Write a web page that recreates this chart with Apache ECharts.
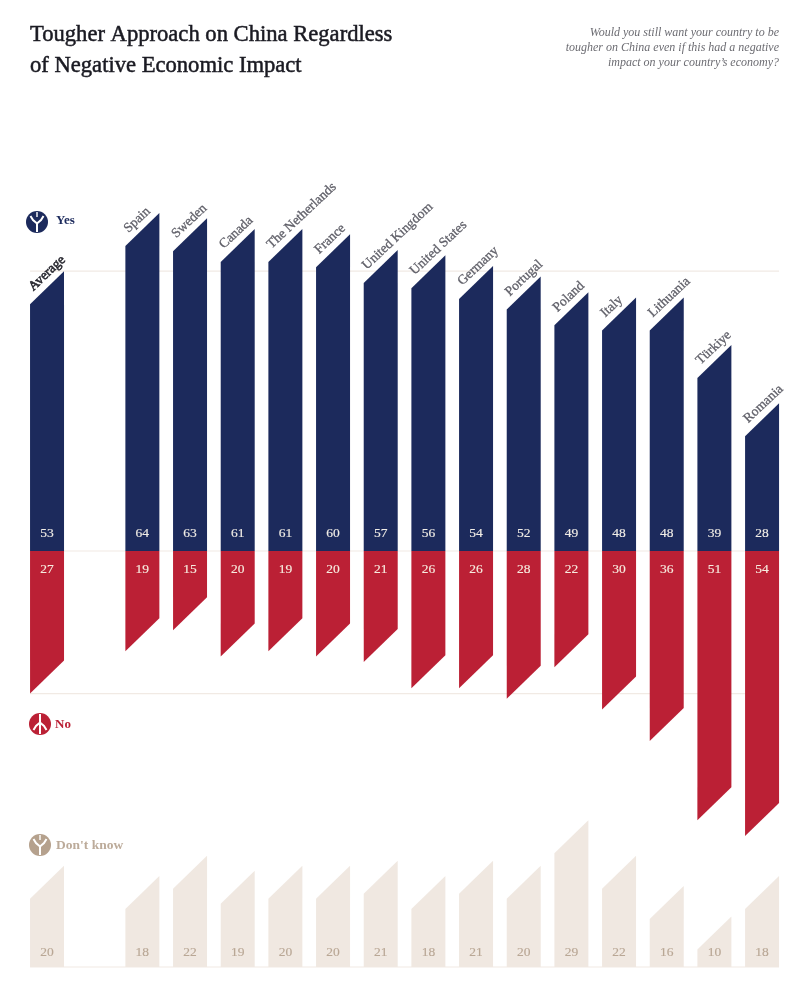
<!DOCTYPE html>
<html>
<head>
<meta charset="utf-8">
<style>html,body{margin:0;padding:0;background:#fff}#c{width:800px;height:992px}</style>
<script src="https://cdn.jsdelivr.net/npm/echarts@6/dist/echarts.min.js"></script>
</head>
<body>
<div id="c"></div>
<script>
const categories = ['Average','','Spain','Sweden','Canada','The Netherlands','France','United Kingdom','United States','Germany','Portugal','Poland','Italy','Lithuania','Türkiye','Romania'];
const yesValues = [53,null,64,63,61,61,60,57,56,54,52,49,48,48,39,28];
const noValues = [27,null,19,15,20,19,20,21,26,26,28,22,30,36,51,54];
const dkValues = [20,null,18,22,19,20,20,21,18,21,20,29,22,16,10,18];
const referenceLines = [53,0,-27];
const baseLine = [0];

const NAVY='#1c2a5c', RED='#bb2035', SAND='#f0e8e1', SANDTEXT='#b9a795', LINE='#f1eae4';
const SERIF='"Liberation Serif", serif';
const RATIO=0.713, RISE=33;

function barItem(color,dir,textColor,labelOffset,withName){
  return function(params,api){
    const v=api.value(1);
    if(v==null||isNaN(v))return;
    const i=api.value(0);
    const c0=api.coord([i,0]), c1=api.coord([i,dir*v]);
    const w=api.size([1,0])[0]*RATIO;
    const l=c0[0]-w/2, r=c0[0]+w/2;
    const pts = dir>0
      ? [[l,c0[1]],[r,c0[1]],[r,c1[1]],[l,c1[1]+RISE]]
      : [[l,c0[1]],[r,c0[1]],[r,c1[1]-RISE],[l,c1[1]]];
    const children=[{type:'polygon',shape:{points:pts},style:{fill:color}},
      {type:'text',x:c0[0],y:c0[1]-dir*labelOffset,style:{text:String(v),fill:textColor,stroke:textColor,lineWidth:0.15,font:'13.5px '+SERIF,textAlign:'center',textVerticalAlign:'middle'}}];
    if(withName){
      const isAvg=categories[i]==='Average';
      const col=isAvg?'#2b2b33':'#5f5f68';
      children.push({type:'text',x:l+5.5,y:c1[1]+RISE-10.5,rotation:Math.PI*0.24,
        style:{text:categories[i],fill:col,stroke:col,lineWidth:isAvg?0.6:0.3,font:'13.5px '+SERIF,textAlign:'left',textVerticalAlign:'bottom'}});
    }
    return {type:'group',children};
  };
}
function lineItem(params,api){
  const v=api.value(0);
  const a=api.coord([0,v]), b=api.coord([categories.length-1,v]);
  const w=api.size([1,0])[0]*RATIO/2;
  return {type:'line',shape:{x1:a[0]-w,y1:a[1],x2:b[0]+w,y2:a[1]},style:{stroke:LINE,lineWidth:1.2}};
}
const pairs=a=>a.map((v,i)=>[i,v]);

const chart=echarts.init(document.getElementById('c'),null,{renderer:'canvas'});
const icon=(cx,cy,color,flip)=>({type:'group',x:cx,y:cy,rotation:flip?Math.PI:0,children:[
  {type:'circle',shape:{cx:0,cy:0,r:11},style:{fill:color}},
  {type:'polyline',shape:{points:flip?[[0,10],[0,-10]]:[[0,10],[0,0]]},style:{stroke:'#fff',lineWidth:2,fill:null}},
  {type:'polyline',shape:{points:[[-6.5,-6],[-4,-2],[0,1.5],[4,-2],[6.5,-6]]},style:{stroke:'#fff',lineWidth:2,fill:null}},
  {type:'polyline',shape:{points:[[0,-10],[0,-5]]},style:{stroke:'#fff',lineWidth:1.4,fill:null}}
]});
chart.setOption({
  animation:false,
  backgroundColor:'#fff',
  title:{text:'Tougher Approach on China Regardless\nof Negative Economic Impact',left:25,top:15,
     textStyle:{fontFamily:SERIF,fontSize:22.6,fontWeight:'normal',color:'#1a1a22',lineHeight:31,textBorderColor:'#1a1a22',textBorderWidth:0.5}},
  grid:[
    {left:23.2,width:762.7,top:181.4,height:686.4},
    {left:23.2,width:762.7,top:815.2,height:151.8}
  ],
  xAxis:[
    {gridIndex:0,type:'category',data:categories,show:false},
    {gridIndex:1,type:'category',data:categories,show:false}
  ],
  yAxis:[
    {gridIndex:0,type:'value',min:-60,max:70,show:false},
    {gridIndex:1,type:'value',min:0,max:30,show:false}
  ],
  series:[
    {type:'custom',name:'Reference',xAxisIndex:0,yAxisIndex:0,z:1,silent:true,data:referenceLines.map(v=>[v]),renderItem:lineItem,encode:{y:0}},
    {type:'custom',name:'Base',xAxisIndex:1,yAxisIndex:1,z:1,silent:true,data:baseLine.map(v=>[v]),renderItem:lineItem,encode:{y:0}},
    {type:'custom',name:'Yes',xAxisIndex:0,yAxisIndex:0,z:2,data:pairs(yesValues),renderItem:barItem(NAVY,1,'#f1ede6',18,true),encode:{x:0,y:1}},
    {type:'custom',name:'No',xAxisIndex:0,yAxisIndex:0,z:2,data:pairs(noValues),renderItem:barItem(RED,-1,'#f7ecdf',18,false),encode:{x:0,y:1}},
    {type:'custom',name:"Don't know",xAxisIndex:1,yAxisIndex:1,z:2,data:pairs(dkValues),renderItem:barItem(SAND,1,SANDTEXT,15,false),encode:{x:0,y:1}}
  ],
  graphic:[
    {type:'text',x:779,y:33,style:{text:'Would you still want your country to be',fill:'#6c6c72',font:'italic 12px '+SERIF,textAlign:'right',textVerticalAlign:'middle'}},
    {type:'text',x:779,y:48,style:{text:'tougher on China even if this had a negative',fill:'#6c6c72',font:'italic 12px '+SERIF,textAlign:'right',textVerticalAlign:'middle'}},
    {type:'text',x:779,y:63,style:{text:'impact on your country’s economy?',fill:'#6c6c72',font:'italic 12px '+SERIF,textAlign:'right',textVerticalAlign:'middle'}},
    icon(37,222,NAVY,false),
    icon(40,724,RED,true),
    icon(40,845,'#b5a18d',false),
    {type:'text',x:56,y:221,style:{text:'Yes',fill:NAVY,font:'bold 13px '+SERIF,textVerticalAlign:'middle'}},
    {type:'text',x:55,y:725,style:{text:'No',fill:RED,font:'bold 13px '+SERIF,textVerticalAlign:'middle'}},
    {type:'text',x:56,y:846,style:{text:"Don't know",fill:'#bcab9a',font:'bold 13.5px '+SERIF,textVerticalAlign:'middle'}}
  ]
});
</script>
</body>
</html>
